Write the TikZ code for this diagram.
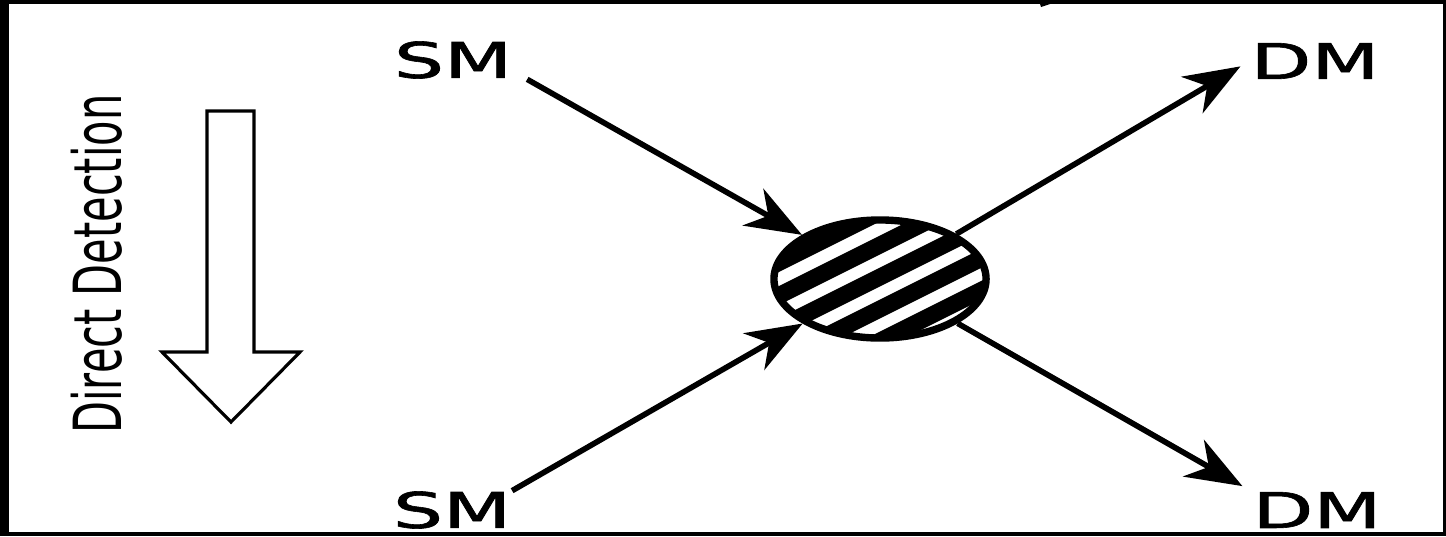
\documentclass[tikz,border=0pt]{standalone}
\usepackage{fontspec}
\setmainfont{DejaVu Sans}
\newfontfamily\lblfont[FakeBold=1.2]{DejaVu Sans}
\usetikzlibrary{shapes,arrows.meta,positioning,calc}

\begin{document}
\begin{tikzpicture}[
  x=0.01cm, y=-0.01cm,
  lbl/.style={inner sep=0pt, font=\lblfont\fontsize{14}{16}\selectfont, xscale=1.6},
  conn/.style={line width=1.6pt, -{Stealth[length=16pt, width=12pt, inset=5pt]}},
  stripe/.style={line width=4.8pt}
]
  \useasboundingbox (0,0) rectangle (1446,536);
  % frame
  \fill[black] (0,0) rectangle (1446,4);
  \fill[black] (0,0) rectangle (9,536);
  \fill[black] (0,532) rectangle (1446,536);
  \fill[black] (1443,0) rectangle (1446,536);
  \fill[black] (1040,4) -- (1050,4) -- (1041,7) -- cycle;

  % labels
  \node[lbl] (smA) at (453,60) {SM};
  \node[lbl] (smB) at (452,510) {SM};
  \node[lbl] (dmA) at (1315,61) {DM};
  \node[lbl] (dmB) at (1317,510) {DM};
  \node[inner sep=0pt, font=\fontsize{11.8}{14}\selectfont, xscale=1.6, rotate=90] (dd) at (97,264) {Direct Detection};

  % hollow arrow
  \draw[line width=0.9pt] (207,111) -- (254,111) -- (254,352) -- (300,352) -- (231,422)
    -- (162,352) -- (207,352) -- cycle;

  % hatched blob
  \begin{scope}
    \clip (880,279) ellipse [x radius=106, y radius=59];
    \foreach \o in {-67,-34,-2,30,62}
      \draw[stripe] (730,279+\o+75) -- (1030,279+\o-75);
  \end{scope}
  \node[draw, line width=2.1pt, ellipse, inner sep=0pt, minimum width=2.12cm, minimum height=1.18cm] (blob) at (880,279) {};

  % connectors
  \draw[conn] ([xshift=4pt]smA.south east) -- (blob);
  \draw[conn] (smB.north east) -- (blob);
  \draw[conn, shorten >=3pt] (blob) -- (dmA.west);
  \draw[conn, shorten >=3pt] (blob) -- (dmB.north west);
\end{tikzpicture}
\end{document}
